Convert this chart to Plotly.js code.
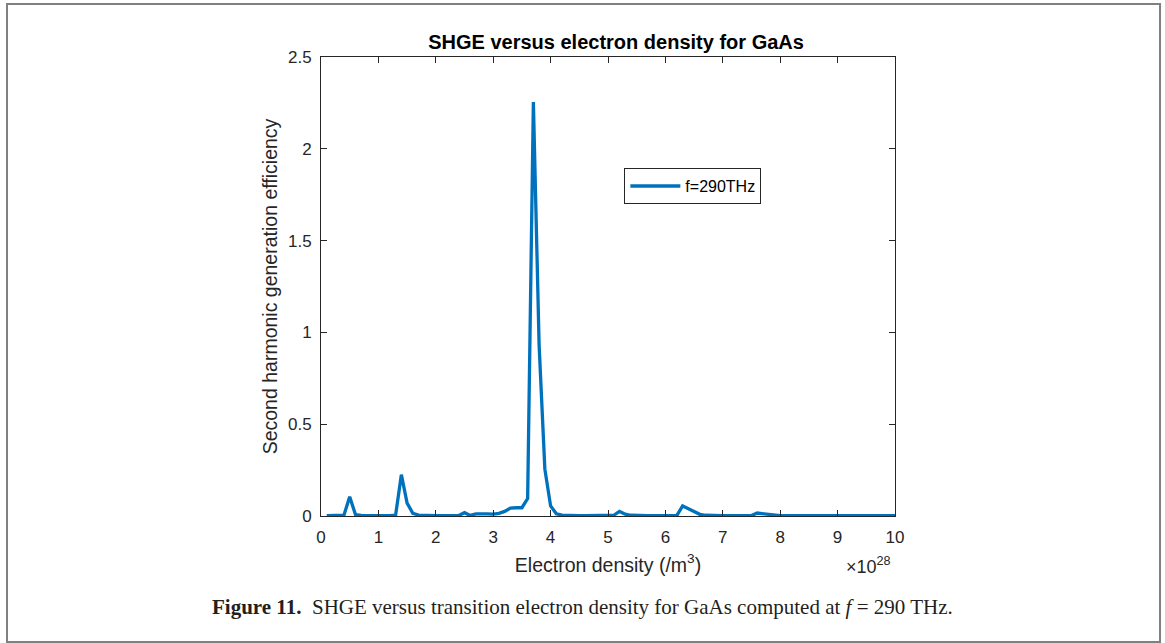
<!DOCTYPE html>
<html>
<head>
<meta charset="utf-8">
<script src="https://cdn.plot.ly/plotly-3.0.1.min.js"></script>
<style>
html,body{margin:0;padding:0;background:#fff;}
#chart{width:1165px;height:643px;}
</style>
</head>
<body>
<div id="chart"></div>
<script>
// Electron density (x 10^28 /m^3)
const density = [
  0.1,0.2,0.3,0.4,0.5,0.6,0.7,0.8,0.9,1.0,
  1.1,1.2,1.3,1.4,1.5,1.6,1.7,1.8,1.9,2.0,
  2.1,2.2,2.3,2.4,2.5,2.6,2.7,2.8,2.9,3.0,
  3.1,3.2,3.3,3.4,3.5,3.6,3.7,3.8,3.9,4.0,
  4.1,4.2,4.3,4.4,4.5,4.6,4.7,4.8,4.9,5.0,
  5.1,5.2,5.3,5.4,5.5,5.6,5.7,5.8,5.9,6.0,
  6.1,6.2,6.3,6.4,6.5,6.6,6.7,6.8,6.9,7.0,
  7.1,7.2,7.3,7.4,7.5,7.6,7.7,7.8,7.9,8.0,
  8.1,8.2,8.3,8.4,8.5,8.6,8.7,8.8,8.9,9.0,
  9.1,9.2,9.3,9.4,9.5,9.6,9.7,9.8,9.9,10.0
];
// Second harmonic generation efficiency, f = 290 THz
const shge = [
  0.002,0.002,0.002,0.005,0.105,0.008,0.003,0.002,0.002,0.002,
  0.002,0.002,0.005,0.225,0.070,0.015,0.005,0.003,0.002,0.002,
  0.002,0.002,0.002,0.003,0.018,0.003,0.012,0.014,0.012,0.010,
  0.014,0.025,0.043,0.045,0.045,0.095,2.255,0.930,0.255,0.055,
  0.012,0.005,0.003,0.002,0.002,0.002,0.002,0.002,0.002,0.002,
  0.004,0.025,0.010,0.004,0.002,0.002,0.002,0.002,0.002,0.002,
  0.002,0.003,0.055,0.040,0.020,0.009,0.004,0.002,0.002,0.002,
  0.002,0.002,0.002,0.002,0.002,0.016,0.012,0.006,0.003,0.002,
  0.002,0.002,0.002,0.002,0.002,0.002,0.002,0.002,0.002,0.003,
  0.002,0.002,0.002,0.002,0.002,0.002,0.002,0.002,0.002,0.002
];
const xTicks = [0,1,2,3,4,5,6,7,8,9,10];
const yTicks = [0,0.5,1,1.5,2,2.5];
const yTickText = ['0','0.5','1','1.5','2','2.5'];
const seriesName = 'f=290THz';

const axisColor = '#262626';
const sans = 'Liberation Sans, Arial, sans-serif';
const tickFont = {family:sans, size:17, color:axisColor};

const trace = {
  x: density, y: shge, type:'scatter', mode:'lines', name: seriesName,
  line:{color:'#0072BD', width:3.3}
};

const layout = {
  width:1165, height:643,
  margin:{l:321, r:270, t:57, b:127, pad:0},
  paper_bgcolor:'#fff', plot_bgcolor:'#fff',
  showlegend:true,
  title:{text:'<b>SHGE versus electron density for GaAs</b>', font:{family:sans, size:20, color:'#000'},
         x:0.514, xref:'paper', xanchor:'center', y:0.935, yref:'container', yanchor:'middle'},
  xaxis:{
    range:[0,10], tickvals:xTicks, ticktext:xTicks.map(String),
    ticks:'inside', ticklen:6, tickcolor:axisColor, tickwidth:1,
    showline:true, linecolor:axisColor, linewidth:1, mirror:'allticks',
    showgrid:false, zeroline:false, tickfont:tickFont, ticklabelstandoff:6,
    title:{text:'Electron density (/m<sup>3</sup>)', font:{family:sans, size:19.5, color:axisColor}, standoff:11}
  },
  yaxis:{
    range:[0,2.5], tickvals:yTicks, ticktext:yTickText,
    ticks:'inside', ticklen:6, tickcolor:axisColor, tickwidth:1,
    showline:true, linecolor:axisColor, linewidth:1, mirror:'allticks',
    showgrid:false, zeroline:false, tickfont:tickFont, ticklabelstandoff:5,
    title:{text:'Second harmonic generation efficiency', font:{family:sans, size:19.5, color:axisColor}, standoff:5}
  },
  legend:{
    x:0.5285, y:0.758, xanchor:'left', yanchor:'top',
    bgcolor:'#fff', bordercolor:'#262626', borderwidth:1,
    font:{family:sans, size:16, color:'#000'},
    itemwidth:50, tracegroupgap:0
  },
  annotations:[
    {text:'×10<sup>28</sup>', xref:'paper', yref:'paper', x:0.9965, y:-0.107, xanchor:'right', yanchor:'middle', showarrow:false,
     font:{family:sans, size:18, color:axisColor}},
    {text:'<b>Figure 11.</b>  SHGE versus transition electron density for GaAs computed at <i>f</i> = 290 THz.',
     xref:'paper', yref:'paper', x:0.4556, y:-0.198, xanchor:'center', yanchor:'middle', showarrow:false,
     font:{family:'Liberation Serif, DejaVu Serif, serif', size:21, color:'#231f20'}}
  ],
  shapes:[
    {type:'rect', xref:'paper', yref:'paper', x0:-0.547, x1:1.4617, y0:-0.2745, y1:1.1155,
     line:{color:'#808080', width:2}, fillcolor:'rgba(0,0,0,0)', layer:'below'}
  ]
};

Plotly.newPlot('chart', [trace], layout, {displayModeBar:false, staticPlot:true});
</script>
</body>
</html>
